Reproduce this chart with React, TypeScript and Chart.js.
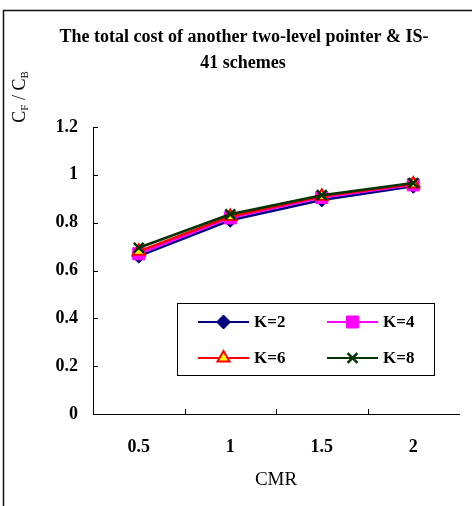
import React, { useEffect, useRef } from 'react';
import { Chart, registerables } from 'chart.js';
import { drawPoint } from 'chart.js/helpers';

Chart.register(...registerables);

const cmrLabels = ['0.5', '1', '1.5', '2'];
const k2Values = [0.66, 0.81, 0.895, 0.952];
const k4Values = [0.67, 0.82, 0.905, 0.958];
const k6Values = [0.68, 0.826, 0.91, 0.962];
const k8Values = [0.695, 0.835, 0.915, 0.966];
const seriesNames = ['K=2', 'K=4', 'K=6', 'K=8'];
const titleLines = ['The total cost of another two-level pointer & IS-', '41 schemes'];
const yMin = 0;
const yMax = 1.2;
const yStep = 0.2;

const FONT = '"Liberation Serif", "Times New Roman", serif';

const decorPlugin = {
  id: 'decor',
  afterDraw(chart: any) {
    const ctx = chart.ctx as CanvasRenderingContext2D;
    const ca = chart.chartArea;
    const xs = chart.scales.x;
    const ys = chart.scales.y;
    ctx.save();

    // outer frame
    ctx.strokeStyle = '#111';
    ctx.lineWidth = 1.5;
    ctx.strokeRect(3.5, 10.5, 480, 510);

    // title
    ctx.fillStyle = '#000';
    ctx.font = `bold 18px ${FONT}`;
    ctx.textAlign = 'center';
    ctx.textBaseline = 'alphabetic';
    ctx.fillText(titleLines[0], 244, 42);
    ctx.fillText(titleLines[1], 243, 68);

    // y title with subscripts (rotated)
    ctx.save();
    ctx.translate(25, 97);
    ctx.rotate(-Math.PI / 2);
    const big = `18px ${FONT}`;
    const small = `11px ${FONT}`;
    const parts: [string, string, number][] = [
      ['C', big, 0],
      ['F', small, 3],
      [' / ', big, 0],
      ['C', big, 0],
      ['B', small, 3],
    ];
    let total = 0;
    for (const [t, f] of parts) {
      ctx.font = f;
      total += ctx.measureText(t).width;
    }
    let px = -total / 2;
    ctx.textAlign = 'left';
    for (const [t, f, dy] of parts) {
      ctx.font = f;
      ctx.fillText(t, px, dy);
      px += ctx.measureText(t).width;
    }
    ctx.restore();

    // inside tick marks
    ctx.strokeStyle = '#000';
    ctx.lineWidth = 1;
    ctx.beginPath();
    for (const t of ys.ticks) {
      if (t.value === yMin) continue;
      const y = Math.round(ys.getPixelForValue(t.value)) + 0.5;
      ctx.moveTo(ca.left, y);
      ctx.lineTo(ca.left + 5, y);
    }
    for (let i = 0; i < cmrLabels.length - 1; i++) {
      const x = Math.round((xs.getPixelForTick(i) + xs.getPixelForTick(i + 1)) / 2) + 0.5;
      ctx.moveTo(x, ca.bottom);
      ctx.lineTo(x, ca.bottom - 5);
    }
    ctx.stroke();

    // legend box
    const lx = 177.5, ly = 303.5, lw = 257, lh = 72;
    ctx.fillStyle = '#fff';
    ctx.fillRect(lx, ly, lw, lh);
    ctx.strokeStyle = '#000';
    ctx.lineWidth = 1;
    ctx.strokeRect(lx, ly, lw, lh);
    const cols = [198, 327];
    const rows = [322, 358];
    chart.data.datasets.forEach((ds: any, i: number) => {
      const cx = cols[i % 2];
      const cy = rows[Math.floor(i / 2)];
      ctx.strokeStyle = ds.borderColor;
      ctx.lineWidth = 2;
      ctx.beginPath();
      ctx.moveTo(cx, cy);
      ctx.lineTo(cx + 51, cy);
      ctx.stroke();
      ctx.fillStyle = ds.pointBackgroundColor;
      ctx.strokeStyle = ds.pointBorderColor;
      ctx.lineWidth = ds.pointBorderWidth;
      drawPoint(ctx, { pointStyle: ds.pointStyle, rotation: 0, radius: ds.pointRadius, borderWidth: ds.pointBorderWidth }, cx + 25.5, cy);
      ctx.fillStyle = '#000';
      ctx.font = `bold 17px ${FONT}`;
      ctx.textAlign = 'left';
      ctx.textBaseline = 'middle';
      ctx.fillText(ds.label, cx + 56, cy + 1);
    });

    ctx.restore();
  },
};

export default function App() {
  const ref = useRef<HTMLCanvasElement>(null);
  useEffect(() => {
    if (!ref.current) return;
    const chart = new Chart(ref.current, {
      type: 'line',
      data: {
        labels: cmrLabels,
        datasets: [
          {
            label: seriesNames[0], data: k2Values, order: 4,
            borderColor: '#000080', backgroundColor: '#000080',
            pointBackgroundColor: '#000080', pointBorderColor: '#000080',
            pointStyle: 'rectRot', pointRadius: 7, pointBorderWidth: 1, borderWidth: 2.5,
          },
          {
            label: seriesNames[1], data: k4Values, order: 3,
            borderColor: '#FF00FF', backgroundColor: '#FF00FF',
            pointBackgroundColor: '#FF00FF', pointBorderColor: '#FF00FF',
            pointStyle: 'rect', pointRadius: 8.5, pointBorderWidth: 1, borderWidth: 2.5,
          },
          {
            label: seriesNames[2], data: k6Values, order: 2,
            borderColor: '#FF0000', backgroundColor: '#FFFF00',
            pointBackgroundColor: '#FFFF00', pointBorderColor: '#FF0000',
            pointStyle: 'triangle', pointRadius: 7, pointBorderWidth: 2, borderWidth: 2.5,
          },
          {
            label: seriesNames[3], data: k8Values, order: 1,
            borderColor: '#003300', backgroundColor: '#003300',
            pointBackgroundColor: '#003300', pointBorderColor: '#003300',
            pointStyle: 'crossRot', pointRadius: 7, pointBorderWidth: 2.5, borderWidth: 2.5,
          },
        ] as any,
      },
      options: {
        responsive: false,
        animation: false,
        devicePixelRatio: 1,
        layout: { padding: { top: 127, right: 13, left: 0, bottom: 0 } },
        plugins: { legend: { display: false }, title: { display: false }, tooltip: { enabled: false } },
        scales: {
          x: {
            type: 'category',
            offset: true,
            grid: { display: false, drawTicks: false, offset: true },
            border: { display: true, color: '#000', width: 1 },
            ticks: { color: '#000', font: { family: FONT, size: 18, weight: 'bold' }, padding: 23 },
            title: { display: true, text: 'CMR', color: '#000', font: { family: FONT, size: 19 }, padding: { top: 0, bottom: 15 } },
            afterFit: (s: any) => { s.height = 92; },
          },
          y: {
            min: yMin, max: yMax,
            grid: { display: false, drawTicks: false },
            border: { display: true, color: '#000', width: 1 },
            ticks: {
              stepSize: yStep, color: '#000', padding: 15,
              font: { family: FONT, size: 18, weight: 'bold' },
              callback: (v: any) => String(Number(Number(v).toFixed(1))),
            },
            afterFit: (s: any) => { s.width = 93; },
          },
        },
      } as any,
      plugins: [decorPlugin],
    });
    return () => chart.destroy();
  }, []);
  return (
    <div style={{ position: 'absolute', left: 0, top: 0, width: 472, height: 506, background: '#fff' }}>
      <canvas ref={ref} width={472} height={506} style={{ display: 'block' }} />
    </div>
  );
}
